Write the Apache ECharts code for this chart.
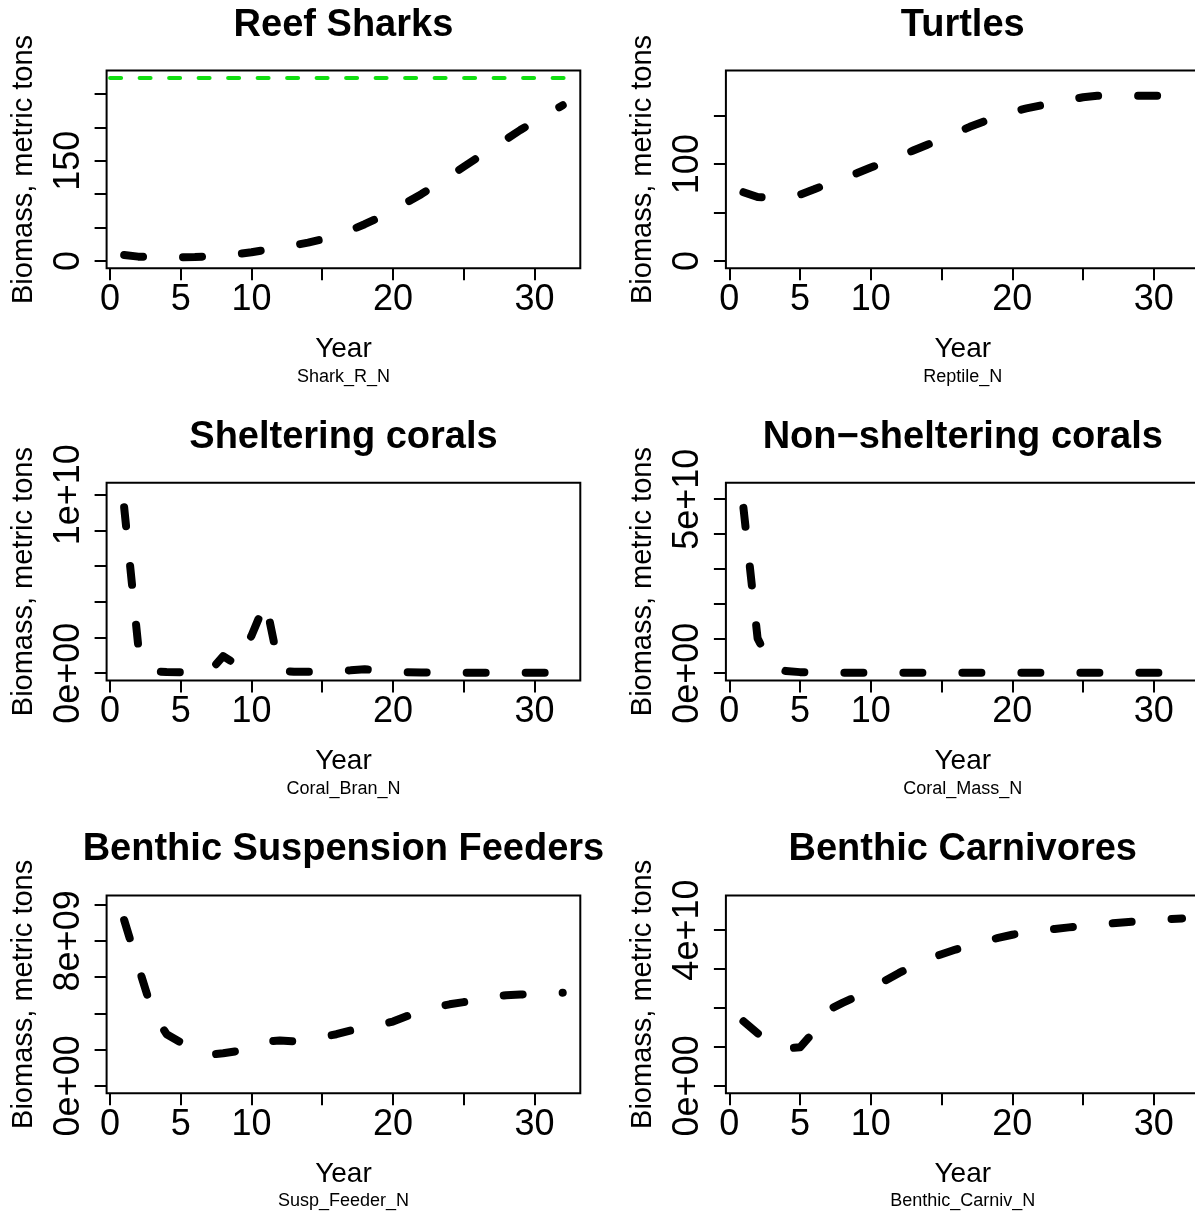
<!DOCTYPE html>
<html>
<head>
<meta charset="utf-8">
<script src="https://cdn.jsdelivr.net/npm/echarts@6/dist/echarts.min.js"></script>
<style>
  html, body { margin: 0; padding: 0; background: #ffffff; }
  #chart { width: 1195px; height: 1213px; }
</style>
</head>
<body>
<div id="chart"></div>
<script>
// Simulation years
const years = [1, 2, 3, 4, 5, 6, 7, 8, 9, 10, 11, 12, 13, 14, 15, 16,
               17, 18, 19, 20, 21, 22, 23, 24, 25, 26, 27, 28, 29, 30, 31, 32];

// Biomass per functional group (metric tons)
const sharkBiomass = [9, 6.5, 5.5, 5.5, 5.5, 6, 7, 8.5, 10.5, 13, 16.5, 20, 23.5, 27.5, 32.5, 38.5,
                      46, 55, 65, 76, 88, 100, 113, 127, 141, 155, 169, 182, 196, 209, 221, 233];
const sharkReference = 274;

const turtleBiomass = [71, 66, 65, 66, 68.5, 74, 80, 85.5, 90.5, 96.5, 102, 108, 114, 120, 126, 132,
                       138.5, 144, 149, 154, 157.5, 160.5, 163.5, 166.5, 169, 170.5, 171, 171, 170.5, 170.5, 170.5, 170.5];

const shelteringCoralBiomass = [9.3e9, 1.5e9, 0.1e9, 0.06e9, 0.05e9, 0.05e9, 0.05e9, 0.95e9, 0.45e9, 2.1e9, 4.0e9, 0.15e9,
                                0.08e9, 0.08e9, 0.1e9, 0.12e9, 0.16e9, 0.22e9, 0.15e9, 0.08e9, 0.05e9, 0.04e9, 0.03e9, 0.03e9,
                                0.03e9, 0.03e9, 0.03e9, 0.03e9, 0.03e9, 0.03e9, 0.03e9, 0.03e9];

const nonShelteringCoralBiomass = [4.75e10, 1.0e10, 0.2e10, 0.06e10, 0.03e10, 0.02e10, 0.015e10, 0.012e10, 0.012e10, 0.01e10,
                                   0.01e10, 0.01e10, 0.01e10, 0.01e10, 0.01e10, 0.01e10, 0.01e10, 0.01e10, 0.01e10, 0.01e10,
                                   0.01e10, 0.01e10, 0.01e10, 0.01e10, 0.01e10, 0.01e10, 0.01e10, 0.01e10, 0.01e10, 0.01e10,
                                   0.01e10, 0.01e10];

const suspFeederBiomass = [9.15e9, 6.6e9, 4.1e9, 2.85e9, 2.4e9, 1.95e9, 1.72e9, 1.8e9, 1.92e9, 2.2e9, 2.45e9, 2.5e9,
                           2.45e9, 2.55e9, 2.7e9, 2.85e9, 3.05e9, 3.2e9, 3.35e9, 3.55e9, 3.85e9, 4.15e9, 4.35e9, 4.5e9,
                           4.62e9, 4.75e9, 4.9e9, 5.0e9, 5.04e9, 5.07e9, 5.1e9, 5.14e9];

const benthicCarnivBiomass = [1.66e10, 1.35e10, 1.1e10, 0.96e10, 0.99e10, 1.4e10, 1.95e10, 2.13e10, 2.3e10, 2.5e10, 2.7e10,
                              2.9e10, 3.08e10, 3.25e10, 3.38e10, 3.5e10, 3.6e10, 3.7e10, 3.8e10, 3.88e10, 3.95e10, 3.99e10,
                              4.03e10, 4.07e10, 4.11e10, 4.14e10, 4.17e10, 4.2e10, 4.23e10, 4.26e10, 4.28e10, 4.3e10];

// Upper y limits before padding
const sharkYLimit = 274;
const turtleYLimit = 189;
const shelteringYLimit = 10.26e9;
const nonShelteringYLimit = 5.26e10;
const suspFeederYLimit = 10.1e9;
const benthicCarnivYLimit = 4.7e10;

// Tick positions and the labelled subset
const xTicks = [0, 5, 10, 15, 20, 25, 30];
const xTickLabels = [0, 5, 10, 20, 30];
const sharkTicks = [0, 50, 100, 150, 200, 250];
const sharkTickLabels = [0, 150];
const turtleTicks = [0, 50, 100, 150];
const turtleTickLabels = [0, 100];
const shelteringTicks = [0, 2e9, 4e9, 6e9, 8e9, 1e10];
const shelteringTickLabels = [0, 1e10];
const nonShelteringTicks = [0, 1e10, 2e10, 3e10, 4e10, 5e10];
const nonShelteringTickLabels = [0, 5e10];
const suspFeederTicks = [0, 2e9, 4e9, 6e9, 8e9, 1e10];
const suspFeederTickLabels = [0, 8e9];
const benthicCarnivTicks = [0, 1e10, 2e10, 3e10, 4e10];
const benthicCarnivTickLabels = [0, 4e10];

const panelTitles = ['Reef Sharks', 'Turtles', 'Sheltering corals', 'Non\u2212sheltering corals',
                     'Benthic Suspension Feeders', 'Benthic Carnivores'];
const groupCodes = ['Shark_R_N', 'Reptile_N', 'Coral_Bran_N', 'Coral_Mass_N', 'Susp_Feeder_N', 'Benthic_Carniv_N'];

const panels = [
  { values: sharkBiomass, limit: sharkYLimit, ticks: sharkTicks, labels: sharkTickLabels, sci: false, reference: sharkReference },
  { values: turtleBiomass, limit: turtleYLimit, ticks: turtleTicks, labels: turtleTickLabels, sci: false },
  { values: shelteringCoralBiomass, limit: shelteringYLimit, ticks: shelteringTicks, labels: shelteringTickLabels, sci: true },
  { values: nonShelteringCoralBiomass, limit: nonShelteringYLimit, ticks: nonShelteringTicks, labels: nonShelteringTickLabels, sci: true },
  { values: suspFeederBiomass, limit: suspFeederYLimit, ticks: suspFeederTicks, labels: suspFeederTickLabels, sci: true },
  { values: benthicCarnivBiomass, limit: benthicCarnivYLimit, ticks: benthicCarnivTicks, labels: benthicCarnivTickLabels, sci: true }
];

// Layout
const FONT = "'Liberation Sans', Arial, Helvetica, sans-serif";
const colLeft = [106.6, 725.9];
const rowTop = [70.6, 482.8, 895.5];
const plotW = 473.7;
const plotH = 197.7;

// 4% padding on both ends, as in base R plots
const xSpan = years[years.length - 1] - years[0];
const xMin = years[0] - 0.04 * xSpan;
const xMax = years[years.length - 1] + 0.04 * xSpan;

function sciLabel(v) {
  const parts = Number(v).toExponential(0).split('e');
  const exp = parts[1];
  return parts[0] + 'e' + exp[0] + exp.slice(1).padStart(2, '0');
}

const grids = [], xAxes = [], yAxes = [], series = [], graphics = [];

panels.forEach((p, i) => {
  const col = i % 2, row = Math.floor(i / 2);
  const left = colLeft[col], top = rowTop[row];
  const cx = left + plotW / 2;

  grids.push({
    left: left, top: top, width: plotW, height: plotH,
    show: true, borderColor: '#000', borderWidth: 2, backgroundColor: 'transparent',
    containLabel: false, outerBoundsMode: 'none'
  });

  xAxes.push({
    type: 'value', gridIndex: i, min: xMin, max: xMax,
    name: 'Year', nameLocation: 'middle', nameGap: 67,
    nameTextStyle: { fontSize: 28, color: '#000', fontFamily: FONT },
    axisLine: { show: false, onZero: false },
    axisTick: { show: true, length: 12, customValues: xTicks, lineStyle: { color: '#000', width: 2 } },
    axisLabel: { show: true, customValues: xTickLabels, margin: 14, fontSize: 36, color: '#000', fontFamily: FONT },
    splitLine: { show: false }
  });

  yAxes.push({
    type: 'value', gridIndex: i, min: -0.04 * p.limit, max: 1.04 * p.limit,
    name: 'Biomass, metric tons', nameLocation: 'middle', nameGap: 68, nameRotate: 90,
    nameTextStyle: { fontSize: 29, color: '#000', fontFamily: FONT },
    axisLine: { show: false, onZero: false },
    axisTick: { show: true, length: 12, customValues: p.ticks, lineStyle: { color: '#000', width: 2 } },
    axisLabel: {
      show: true, customValues: p.labels, rotate: 90, margin: 20, fontSize: 36, color: '#000', fontFamily: FONT,
      formatter: p.sci ? (v => sciLabel(v)) : (v => String(v))
    },
    splitLine: { show: false }
  });

  const s = {
    type: 'line', xAxisIndex: i, yAxisIndex: i,
    data: years.map((yr, k) => [yr, p.values[k]]),
    showSymbol: false, symbol: 'none', smooth: false, silent: true,
    lineStyle: { color: '#000', width: 8, type: [19, 40], cap: 'round', join: 'round' },
    animation: false, clip: true
  };
  if (p.reference !== undefined) {
    s.markLine = {
      silent: true, symbol: ['none', 'none'], animation: false,
      label: { show: false },
      lineStyle: { color: '#11e011', width: 4, type: [11, 18.5], cap: 'round', dashOffset: 26 },
      emphasis: { disabled: true },
      data: [{ yAxis: p.reference }]
    };
  }
  series.push(s);

  graphics.push({
    type: 'text', x: cx, y: top - 45.5, silent: true,
    style: { text: panelTitles[i], fontSize: 38, fontWeight: 'bold', fontFamily: FONT, fill: '#000',
             align: 'center', verticalAlign: 'middle' }
  });
  graphics.push({
    type: 'text', x: cx, y: top + 306, silent: true,
    style: { text: groupCodes[i], fontSize: 18, fontFamily: FONT, fill: '#000',
             align: 'center', verticalAlign: 'middle' }
  });
});

const chart = echarts.init(document.getElementById('chart'), null, { renderer: 'canvas' });
chart.setOption({
  animation: false,
  backgroundColor: '#ffffff',
  grid: grids,
  xAxis: xAxes,
  yAxis: yAxes,
  series: series,
  graphic: graphics
});
</script>
</body>
</html>
